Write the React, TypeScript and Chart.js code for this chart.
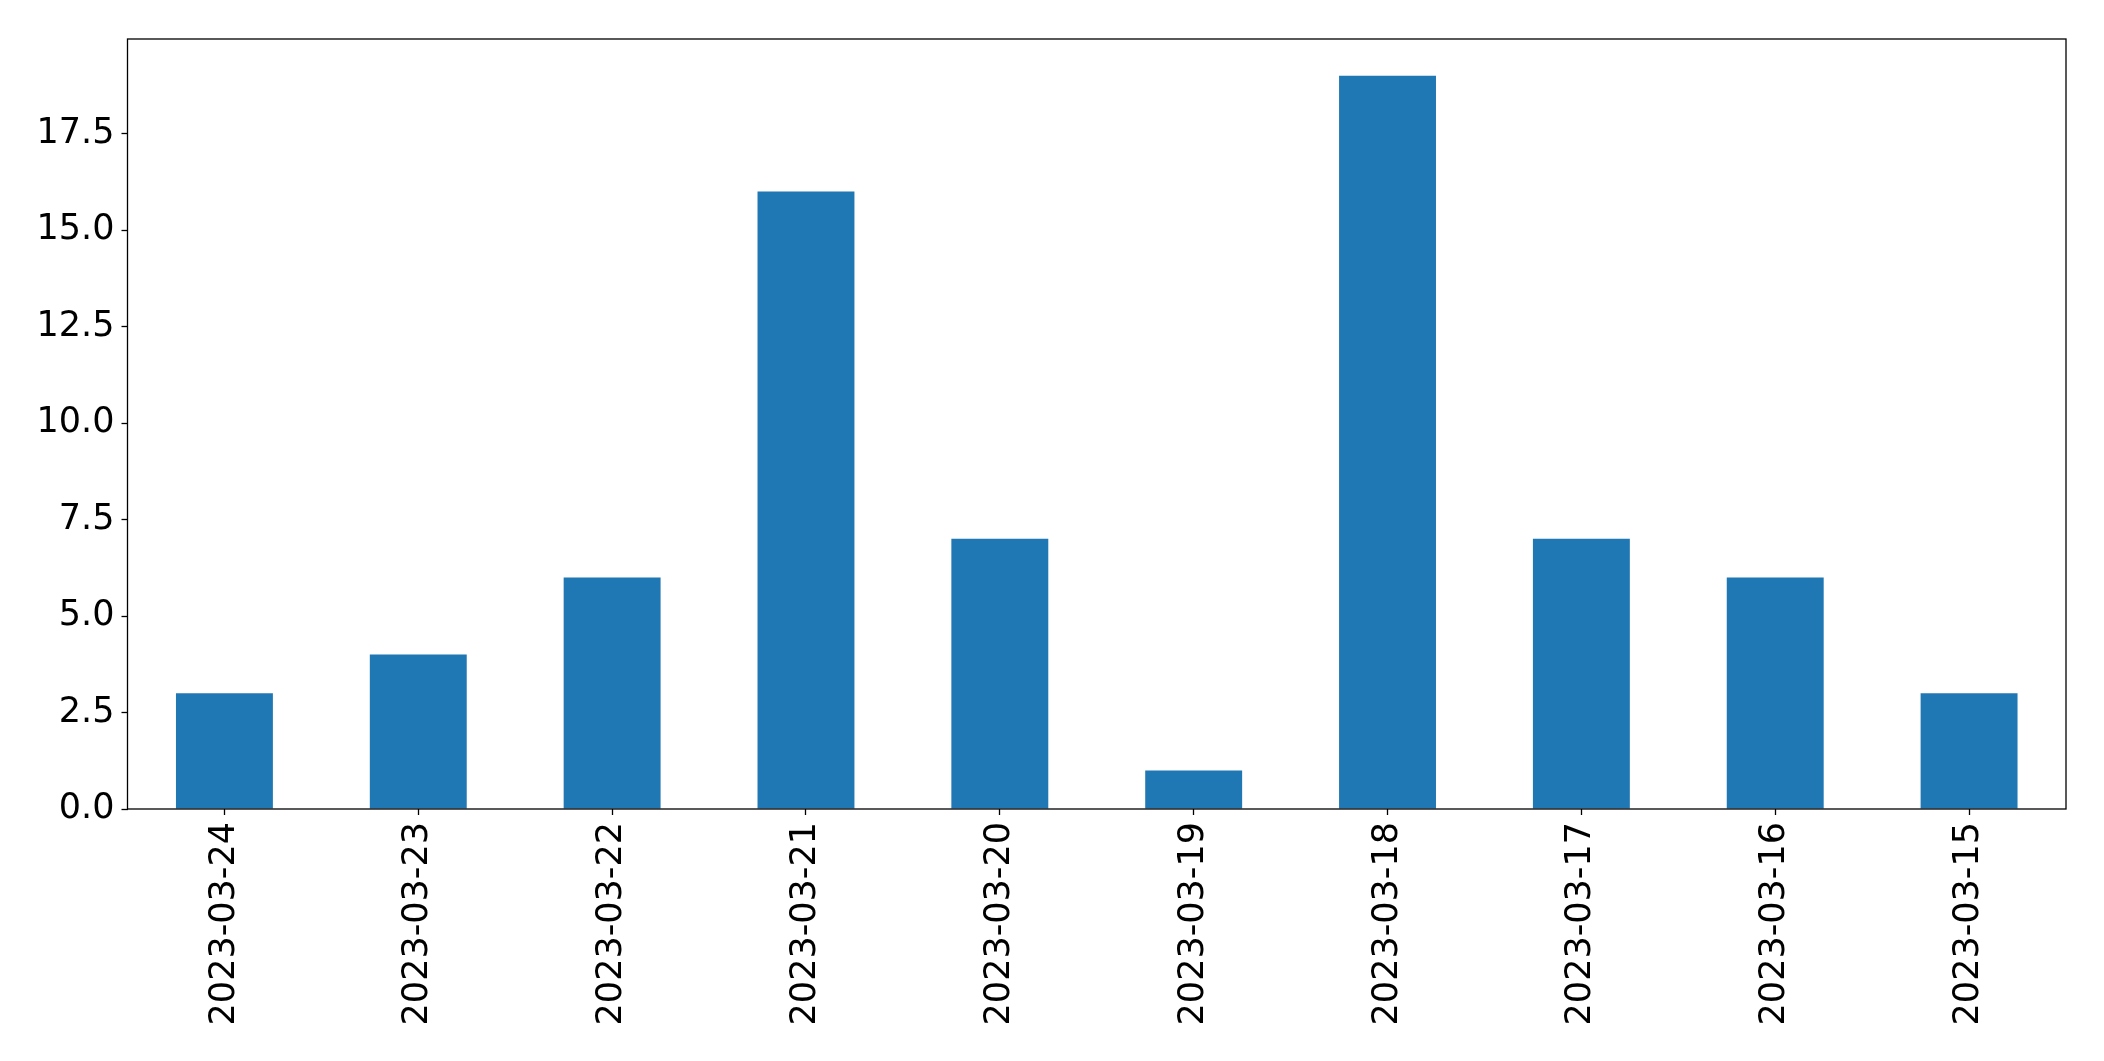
import React, { useEffect, useRef } from "react";
import { Chart, registerables } from "chart.js";

Chart.register(...registerables);

const categories = [
  "2023-03-24",
  "2023-03-23",
  "2023-03-22",
  "2023-03-21",
  "2023-03-20",
  "2023-03-19",
  "2023-03-18",
  "2023-03-17",
  "2023-03-16",
  "2023-03-15",
];
const counts = [3, 4, 6, 16, 7, 1, 19, 7, 6, 3];
const yMax = 19.95;
const yStep = 2.5;

const W = 2104;
const H = 1061;
const FONT = "'DejaVu Sans', sans-serif";

const framePlugin = {
  id: "frame",
  afterDraw(chart: any) {
    const { ctx, chartArea } = chart;
    ctx.save();
    ctx.strokeStyle = "#000";
    ctx.lineWidth = 1.3;
    ctx.strokeRect(
      chartArea.left,
      chartArea.top,
      chartArea.right - chartArea.left,
      chartArea.bottom - chartArea.top
    );
    ctx.restore();
  },
};

export default function App() {
  const ref = useRef<HTMLCanvasElement | null>(null);
  useEffect(() => {
    document.body.style.margin = "0";
    const canvas = ref.current!;
    const chart = new Chart(canvas, {
      type: "bar",
      data: {
        labels: categories,
        datasets: [
          {
            data: counts,
            backgroundColor: "#1f77b4",
            borderWidth: 0,
            barPercentage: 0.5,
            categoryPercentage: 1,
          },
        ],
      },
      options: {
        animation: false,
        responsive: false,
        devicePixelRatio: 1,
        layout: { padding: { top: 39, right: 38, left: 0, bottom: 0 } },
        plugins: { legend: { display: false }, tooltip: { enabled: false } },
        scales: {
          x: {
            offset: true,
            grid: {
              display: true,
              drawOnChartArea: false,
              drawTicks: true,
              tickLength: 6,
              tickColor: "#000",
              tickWidth: 1.3,
              offset: false,
            },
            border: { display: false },
            ticks: {
              autoSkip: false,
              minRotation: 90,
              maxRotation: 90,
              padding: 7,
              color: "#000",
              font: { family: FONT, size: 35 },
            },
            afterFit(scale: any) {
              scale.height = H - 809;
            },
          },
          y: {
            min: 0,
            max: yMax,
            grid: {
              display: true,
              drawOnChartArea: false,
              drawTicks: true,
              tickLength: 6,
              tickColor: "#000",
              tickWidth: 1.3,
            },
            border: { display: false },
            ticks: {
              stepSize: yStep,
              includeBounds: false,
              padding: 7,
              color: "#000",
              font: { family: FONT, size: 35 },
              callback: (v: any) => Number(v).toFixed(1),
            },
            afterFit(scale: any) {
              scale.width = 127.5;
            },
          },
        },
      },
      plugins: [framePlugin],
    });
    return () => chart.destroy();
  }, []);
  return (
    <div style={{ position: "absolute", left: 0, top: 0, width: W, height: H, background: "#fff" }}>
      <canvas ref={ref} width={W} height={H} style={{ width: W, height: H, display: "block" }} />
    </div>
  );
}
